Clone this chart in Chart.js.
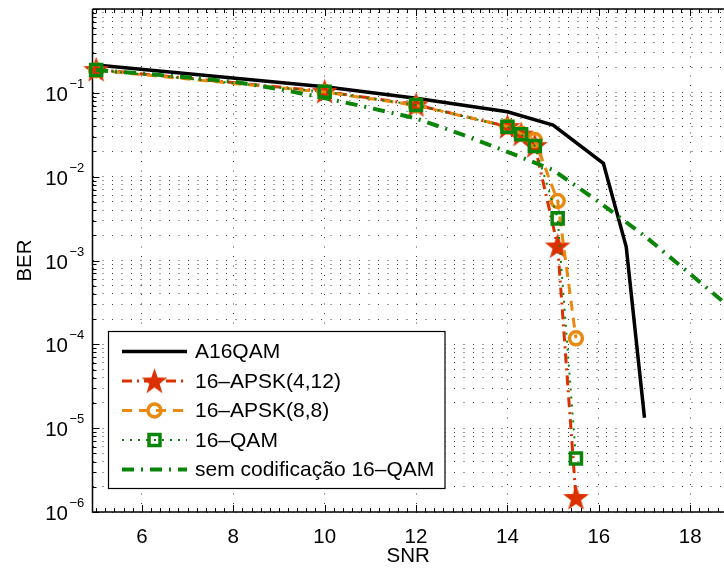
<!DOCTYPE html>
<html>
<head>
<meta charset="utf-8">
<script src="https://cdn.jsdelivr.net/npm/chart.js@4.4.0/dist/chart.umd.min.js"></script>
<style>
  html, body { margin: 0; padding: 0; background: #fff; }
  #wrap { width: 724px; height: 572px; }
</style>
</head>
<body>
<div id="wrap"><canvas id="chartBER" width="724" height="572"></canvas></div>
<script>
/* ---- dados ---- */
const snrA16 = [5, 10, 12, 14, 15, 16.1, 16.6, 17];
const berA16 = [0.215, 0.118, 0.086, 0.0595, 0.0413, 0.0144, 0.00146, 1.33e-5];

const snrMarked = [5, 10, 12, 14, 14.3, 14.6, 15.1, 15.5];
const berApsk412 = [0.19, 0.104, 0.072, 0.0396, 0.0322, 0.0235, 0.00149, 1.49e-6];
const berApsk88  = [0.186, 0.102, 0.071, 0.0398, 0.0325, 0.0273, 0.00512, 1.18e-4];
const berQam16   = [0.187, 0.103, 0.0715, 0.0394, 0.032, 0.0232, 0.00318, 4.35e-6];

const snrUncoded = [5, 6, 7, 8, 9, 10, 11, 12, 13, 14, 15, 16, 17, 18, 19];
const berUncoded = [0.187, 0.17, 0.153, 0.136, 0.111, 0.0867, 0.066, 0.0496, 0.032, 0.0198, 0.012, 0.005, 0.00197, 0.00069, 0.00024];

const xTickValues = [6, 8, 10, 12, 14, 16, 18];
const yDecades = [1e-6, 1e-5, 1e-4, 1e-3, 1e-2, 1e-1, 1e0];
const yLabelExp = ["\u22126", "\u22125", "\u22124", "\u22123", "\u22122", "\u22121"];

const FONT = "'Liberation Sans', Arial, Helvetica, sans-serif";
const RED = "#dc3000";
const ORANGE = "#e98a10";
const GREEN = "#0a850a";

function pairs(xs, ys) {
  return xs.map((x, i) => ({ x: x, y: ys[i] }));
}

// pentagrama preenchido (marcador do MATLAB)
function starImage(size, color) {
  const c = document.createElement("canvas");
  c.width = c.height = size;
  const g = c.getContext("2d");
  const r = size / 2, ri = r * 0.4;
  g.beginPath();
  for (let i = 0; i < 10; i++) {
    const a = -Math.PI / 2 + i * Math.PI / 5;
    const rr = i % 2 ? ri : r;
    g.lineTo(r + rr * Math.cos(a), r + rr * 1.02 * Math.sin(a) + 1);
  }
  g.closePath();
  g.fillStyle = color;
  g.fill();
  return c;
}
const starImg = starImage(27, RED);

// ticks do eixo y (décadas + subdivisões)
const yAllTicks = [];
for (let e = -6; e < 0; e++) {
  for (let m = 1; m <= 9; m++) yAllTicks.push(m * Math.pow(10, e));
}
yAllTicks.push(1);

const legendItems = [
  { text: "A16QAM", color: "#000", width: 3.5, dash: [], marker: null },
  { text: "16\u2013APSK(4,12)", color: RED, width: 3, dash: [10, 5, 2, 5], marker: "star" },
  { text: "16\u2013APSK(8,8)", color: ORANGE, width: 3, dash: [10, 7], marker: "circle" },
  { text: "16\u2013QAM", color: GREEN, width: 2, dash: [2, 6], marker: "rect" },
  { text: "sem codifica\u00e7\u00e3o 16\u2013QAM", color: GREEN, width: 4, dash: [12, 7, 2, 7], marker: null }
];

function drawMarker(ctx, kind, x, y) {
  if (kind === "star") {
    ctx.drawImage(starImg, x - starImg.width / 2, y - starImg.height / 2);
  } else if (kind === "circle") {
    ctx.strokeStyle = ORANGE; ctx.lineWidth = 3.5; ctx.setLineDash([]);
    ctx.beginPath(); ctx.arc(x, y, 6.5, 0, Math.PI * 2); ctx.stroke();
  } else if (kind === "rect") {
    ctx.strokeStyle = GREEN; ctx.lineWidth = 3.5; ctx.setLineDash([]);
    ctx.strokeRect(x - 5.5, y - 5.5, 11, 11);
  }
}

/* ---- moldura, ticks internos, rótulos 10^n e legenda ---- */
const matlabAxes = {
  id: "matlabAxes",
  beforeDatasetsDraw(chart) {
    const { ctx, chartArea: a, scales: { x, y } } = chart;
    ctx.save();
    ctx.setLineDash([]);
    ctx.strokeStyle = "#000";
    ctx.lineWidth = 1.5;
    ctx.beginPath();
    ctx.moveTo(a.left, a.top); ctx.lineTo(a.right, a.top);
    ctx.moveTo(a.left, a.top); ctx.lineTo(a.left, a.bottom); ctx.lineTo(a.right, a.bottom);
    ctx.stroke();

    ctx.lineWidth = 1;
    ctx.beginPath();
    yAllTicks.forEach(v => {
      const py = Math.round(y.getPixelForValue(v)) + 0.5;
      const major = yDecades.includes(v);
      ctx.moveTo(a.left, py); ctx.lineTo(a.left + (major ? 7 : 4), py);
    });
    for (let k = 25; k <= 94; k++) {
      const v = k / 5;
      const px = Math.round(x.getPixelForValue(v)) + 0.5;
      if (px < a.left || px > a.right) continue;
      const major = xTickValues.includes(v);
      const len = major ? 7 : 4;
      ctx.moveTo(px, a.bottom); ctx.lineTo(px, a.bottom - len);
      ctx.moveTo(px, a.top); ctx.lineTo(px, a.top + len);
    }
    ctx.stroke();
    ctx.restore();
  },
  afterDraw(chart) {
    const { ctx, scales: { y } } = chart;
    ctx.save();
    // rótulos do eixo y
    ctx.fillStyle = "#000";
    ctx.textBaseline = "alphabetic";
    for (let i = 0; i < 6; i++) {
      const py = y.getPixelForValue(yDecades[i]);
      ctx.font = "20.5px " + FONT;
      ctx.textAlign = "right";
      ctx.fillText("10", 68, py + 8);
      ctx.font = "13px " + FONT;
      ctx.textAlign = "left";
      ctx.fillText(yLabelExp[i], 69.5, py - 5);
    }

    // legenda
    const bx = 108.5, by = 331.5, bw = 336.5, bh = 157;
    ctx.fillStyle = "#fff";
    ctx.fillRect(bx, by, bw, bh);
    ctx.strokeStyle = "#000";
    ctx.lineWidth = 1.2;
    ctx.strokeRect(bx, by, bw, bh);
    ctx.font = "21px " + FONT;
    ctx.textAlign = "left";
    ctx.textBaseline = "middle";
    legendItems.forEach((it, i) => {
      const ry = 351.5 + i * 29.5;
      ctx.strokeStyle = it.color;
      ctx.lineWidth = it.width;
      ctx.setLineDash(it.dash);
      ctx.beginPath(); ctx.moveTo(122, ry); ctx.lineTo(187, ry); ctx.stroke();
      ctx.setLineDash([]);
      if (it.marker) drawMarker(ctx, it.marker, 154.5, ry);
      ctx.fillStyle = "#000";
      ctx.fillText(it.text, 195, ry + 1);
    });
    ctx.restore();
  }
};

Chart.defaults.font.family = FONT;
Chart.defaults.color = "#000";

const ctxEl = document.getElementById("chartBER");
new Chart(ctxEl.getContext("2d"), {
  type: "line",
  data: {
    datasets: [
      {
        label: "A16QAM", data: pairs(snrA16, berA16),
        borderColor: "#000", borderWidth: 3.5, pointRadius: 0, order: 5
      },
      {
        label: "16\u2013APSK(4,12)", data: pairs(snrMarked, berApsk412),
        borderColor: RED, borderWidth: 3, borderDash: [10, 5, 2, 5],
        pointStyle: starImg, pointRadius: 13, order: 4
      },
      {
        label: "16\u2013APSK(8,8)", data: pairs(snrMarked, berApsk88),
        borderColor: ORANGE, borderWidth: 3, borderDash: [10, 7],
        pointStyle: "circle", pointRadius: 6.5, pointBorderWidth: 3.5,
        pointBorderColor: ORANGE, pointBackgroundColor: "rgba(0,0,0,0)", order: 3
      },
      {
        label: "16\u2013QAM", data: pairs(snrMarked, berQam16),
        borderColor: GREEN, borderWidth: 2, borderDash: [2, 6],
        pointStyle: "rect", pointRadius: 7.8, pointBorderWidth: 3.5,
        pointBorderColor: GREEN, pointBackgroundColor: "rgba(0,0,0,0)", order: 2
      },
      {
        label: "sem codifica\u00e7\u00e3o 16\u2013QAM", data: pairs(snrUncoded, berUncoded),
        borderColor: GREEN, borderWidth: 4, borderDash: [12, 7, 2, 7], pointRadius: 0, order: 1
      }
    ]
  },
  options: {
    responsive: false,
    animation: false,
    devicePixelRatio: 1,
    layout: { autoPadding: false, padding: { top: 9, left: 0, right: 0, bottom: 0 } },
    elements: { line: { tension: 0, fill: false } },
    datasets: { line: { clip: false } },
    plugins: { legend: { display: false }, tooltip: { enabled: false } },
    scales: {
      x: {
        type: "linear", min: 4.92, max: 18.74,
        afterBuildTicks: s => { s.ticks = xTickValues.map(v => ({ value: v })); },
        afterFit: s => { s.height = 60; s.paddingLeft = 0; s.paddingRight = 0; },
        ticks: { font: { size: 20.5 }, color: "#000", padding: 13, maxRotation: 0, autoSkip: false },
        grid: { color: "rgba(0,0,0,0.75)", lineWidth: 1, drawTicks: false },
        border: { display: false, dash: [1, 8.5] },
        title: { display: true, text: "SNR", font: { size: 20.5 }, color: "#000", padding: { top: 0, bottom: 3 } }
      },
      y: {
        type: "logarithmic", min: 1e-6, max: 1,
        afterBuildTicks: s => { s.ticks = yAllTicks.map(v => ({ value: v })); },
        afterFit: s => { s.width = 92.5; s.paddingTop = 0; s.paddingBottom = 0; },
        ticks: { display: false },
        grid: { color: "rgba(0,0,0,0.75)", lineWidth: 1, drawTicks: false },
        border: { display: false, dash: [1, 8.5] },
        title: { display: true, text: "BER", font: { size: 20.5 }, color: "#000", padding: { top: 13, bottom: 0 } }
      }
    }
  },
  plugins: [matlabAxes]
});
</script>
</body>
</html>
